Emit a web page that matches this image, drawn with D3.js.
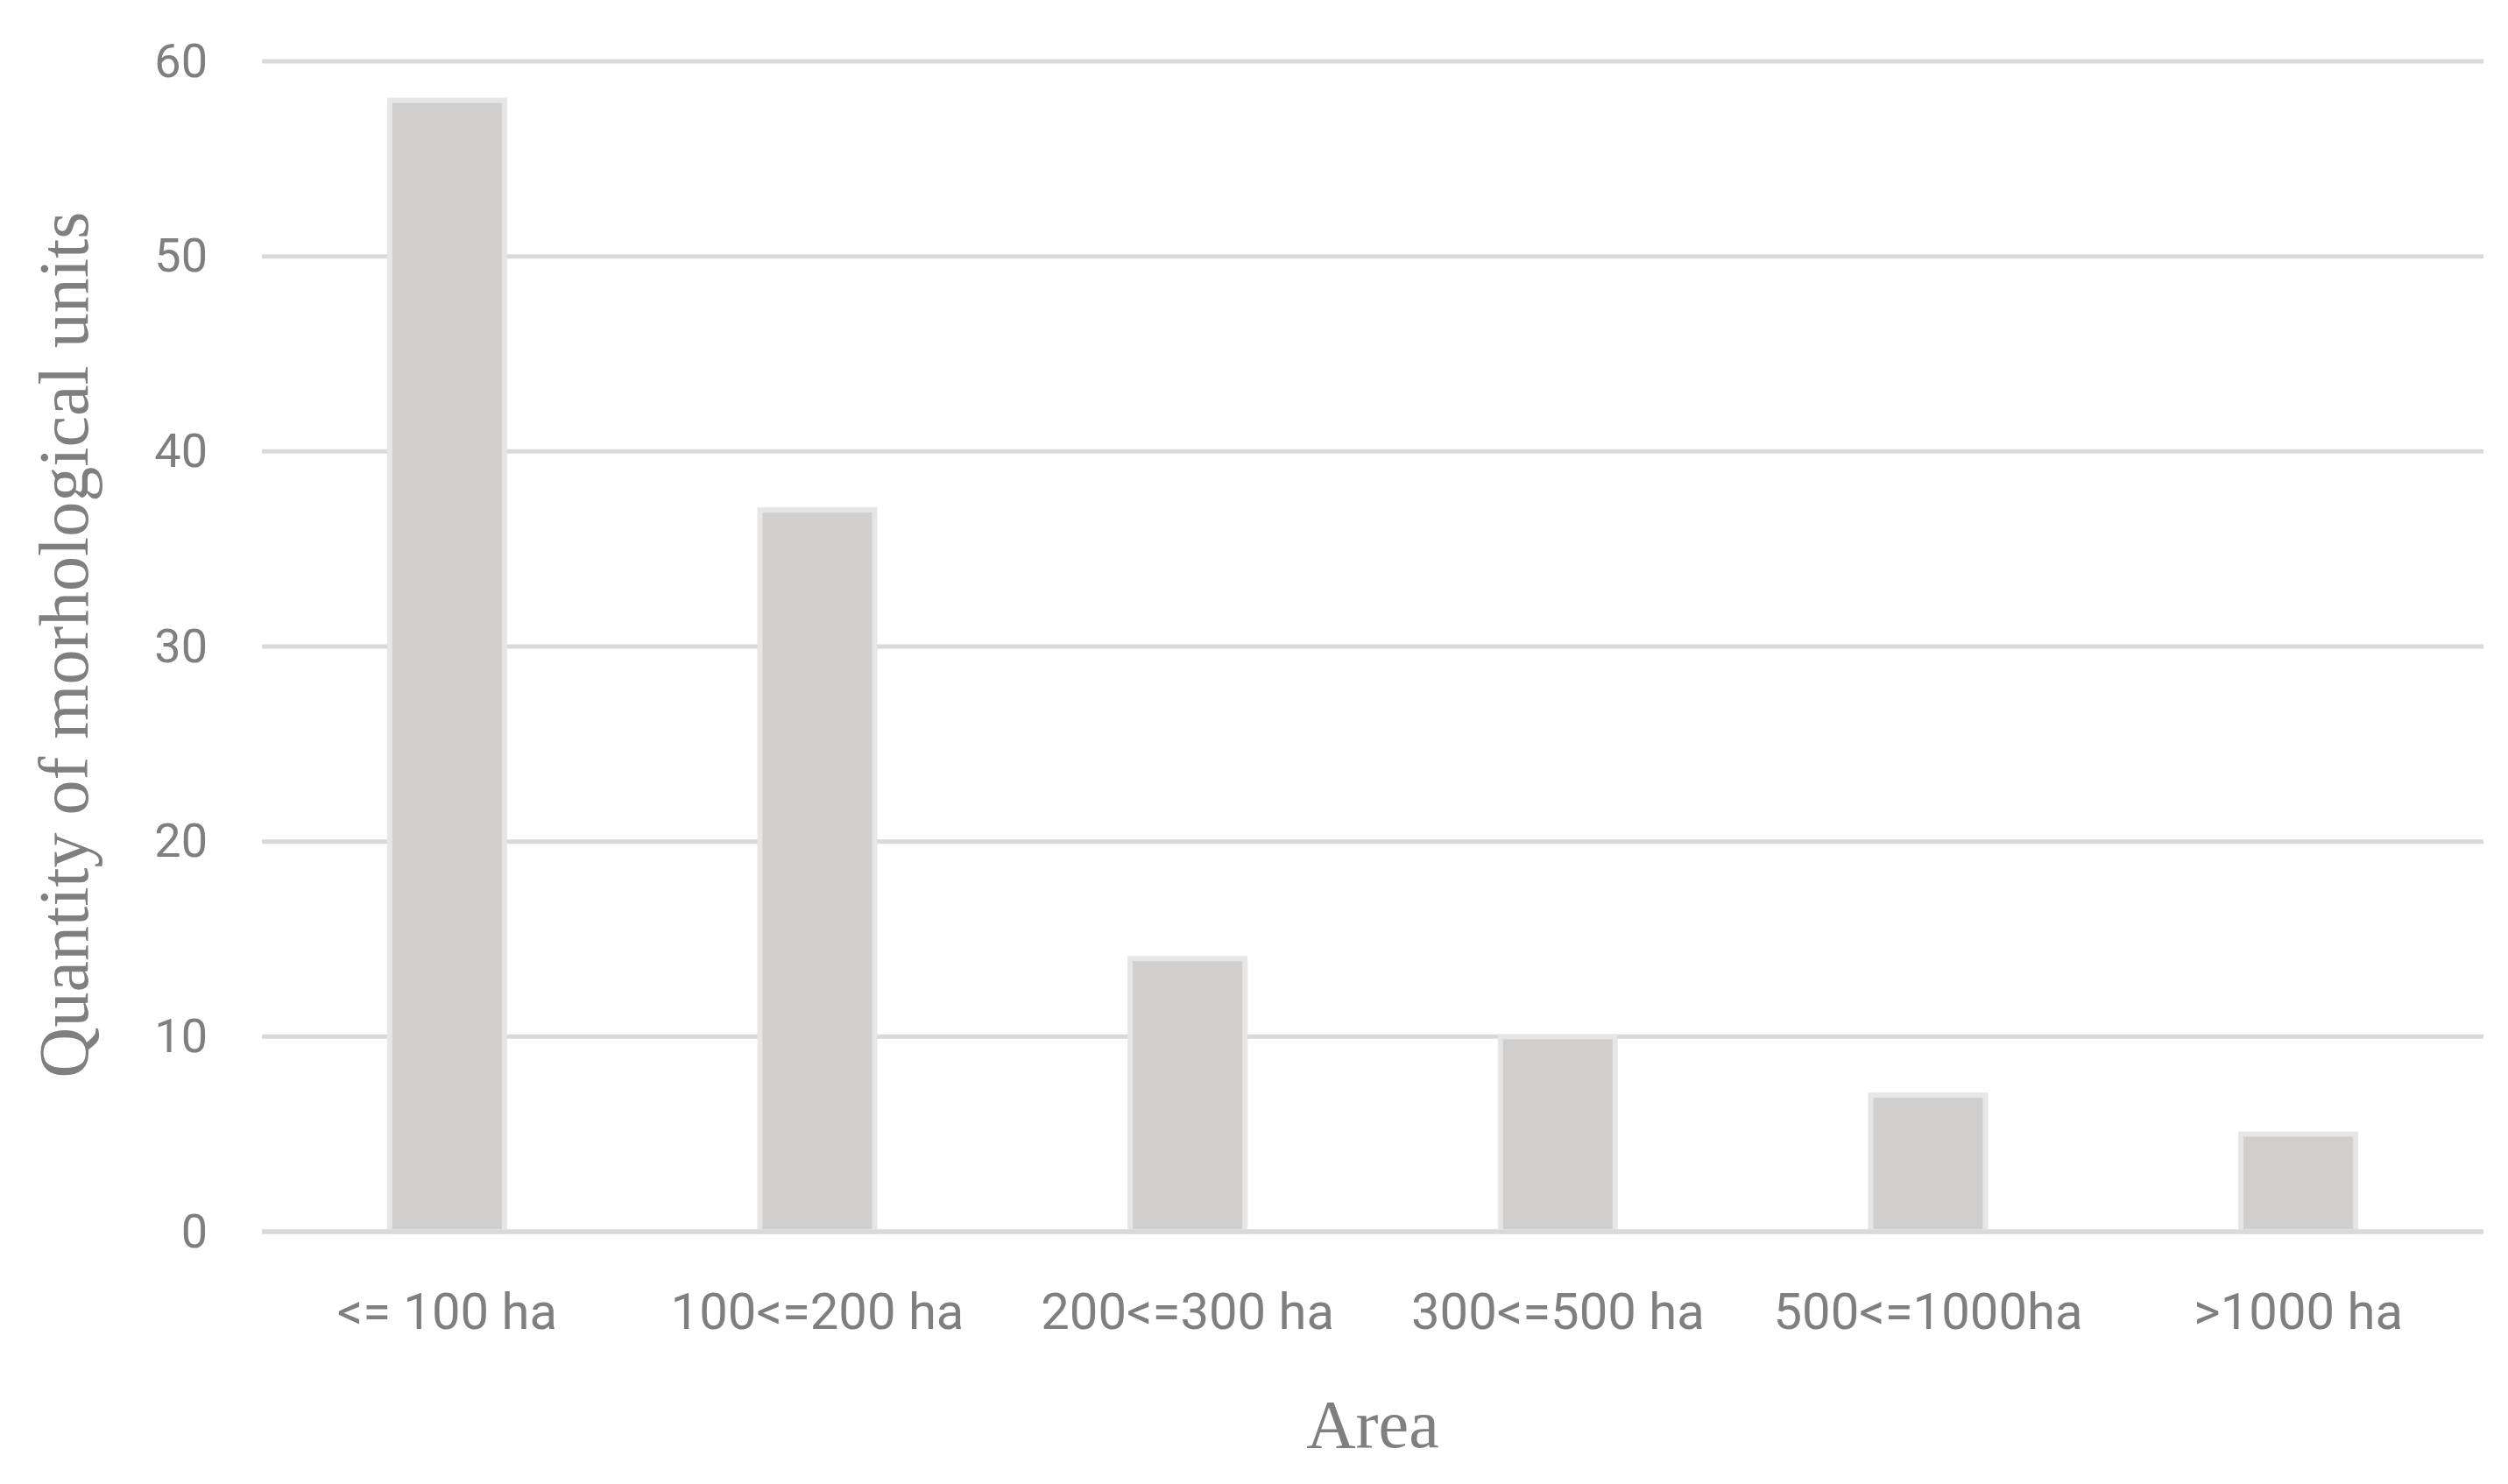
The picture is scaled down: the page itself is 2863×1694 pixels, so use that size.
<!DOCTYPE html>
<html><head><meta charset="utf-8">
<script src="https://cdn.jsdelivr.net/npm/d3@7"></script>
<style>
body{margin:0;background:#fff}
.tick text{fill:#7f7f7f;font-family:"Liberation Sans Narrow","Roboto",sans-serif}
</style></head>
<body><svg id="chart" width="2863" height="1694"></svg>
<script>
// data
var categories = ["<= 100 ha", "100<=200 ha", "200<=300 ha", "300<=500 ha", "500<=1000ha", ">1000 ha"];
var counts = [58, 37, 14, 10, 7, 5];
var yTicks = [0, 10, 20, 30, 40, 50, 60];

var plotLeft = 299, plotRight = 2835, plotTop = 70, plotBottom = 1406;
var svg = d3.select("#chart");

var x = d3.scaleBand().domain(categories).range([plotLeft, plotRight]).paddingInner(0.69).paddingOuter(0.345);
var y = d3.scaleLinear().domain([0, 60]).range([plotBottom, plotTop]);

// gridlines
svg.append("g").selectAll("line").data(yTicks).enter().append("line")
  .attr("x1", plotLeft).attr("x2", plotRight)
  .attr("y1", function(d){return y(d);}).attr("y2", function(d){return y(d);})
  .attr("stroke", "#d9d9d9").attr("stroke-width", 5);

// y axis labels
var ya = svg.append("g").attr("transform", "translate(" + (plotLeft - 62) + ",0)")
  .call(d3.axisLeft(y).tickValues(yTicks).tickSize(0).tickPadding(0));
ya.select(".domain").remove();
ya.selectAll("text").attr("font-size", 54);

// bars
svg.append("g").selectAll("rect").data(counts).enter().append("rect")
  .attr("x", function(d, i){return x(categories[i]);})
  .attr("y", function(d){return y(d);})
  .attr("width", x.bandwidth())
  .attr("height", function(d){return plotBottom - y(d);})
  .attr("fill", "#d0cfcd").attr("stroke", "#e6e6e6").attr("stroke-width", 6);

// baseline over bars
svg.append("line").attr("x1", plotLeft).attr("x2", plotRight).attr("y1", plotBottom).attr("y2", plotBottom)
  .attr("stroke", "#d9d9d9").attr("stroke-width", 5);

// x axis labels
var xa = svg.append("g").attr("transform", "translate(0," + plotBottom + ")")
  .call(d3.axisBottom(x).tickSize(0).tickPadding(70));
xa.select(".domain").remove();
xa.selectAll("text").attr("font-size", 58);

// axis titles
svg.append("text").attr("x", (plotLeft + plotRight) / 2).attr("y", 1652)
  .attr("text-anchor", "middle").attr("fill", "#7f7f7f")
  .attr("font-family", "Liberation Serif, serif").attr("font-size", 78).text("Area");
svg.append("text").attr("transform", "translate(100,736) rotate(-90)")
  .attr("text-anchor", "middle").attr("fill", "#7f7f7f")
  .attr("font-family", "Liberation Serif, serif").attr("font-size", 80).text("Quantity of morhological units");
</script></body></html>
